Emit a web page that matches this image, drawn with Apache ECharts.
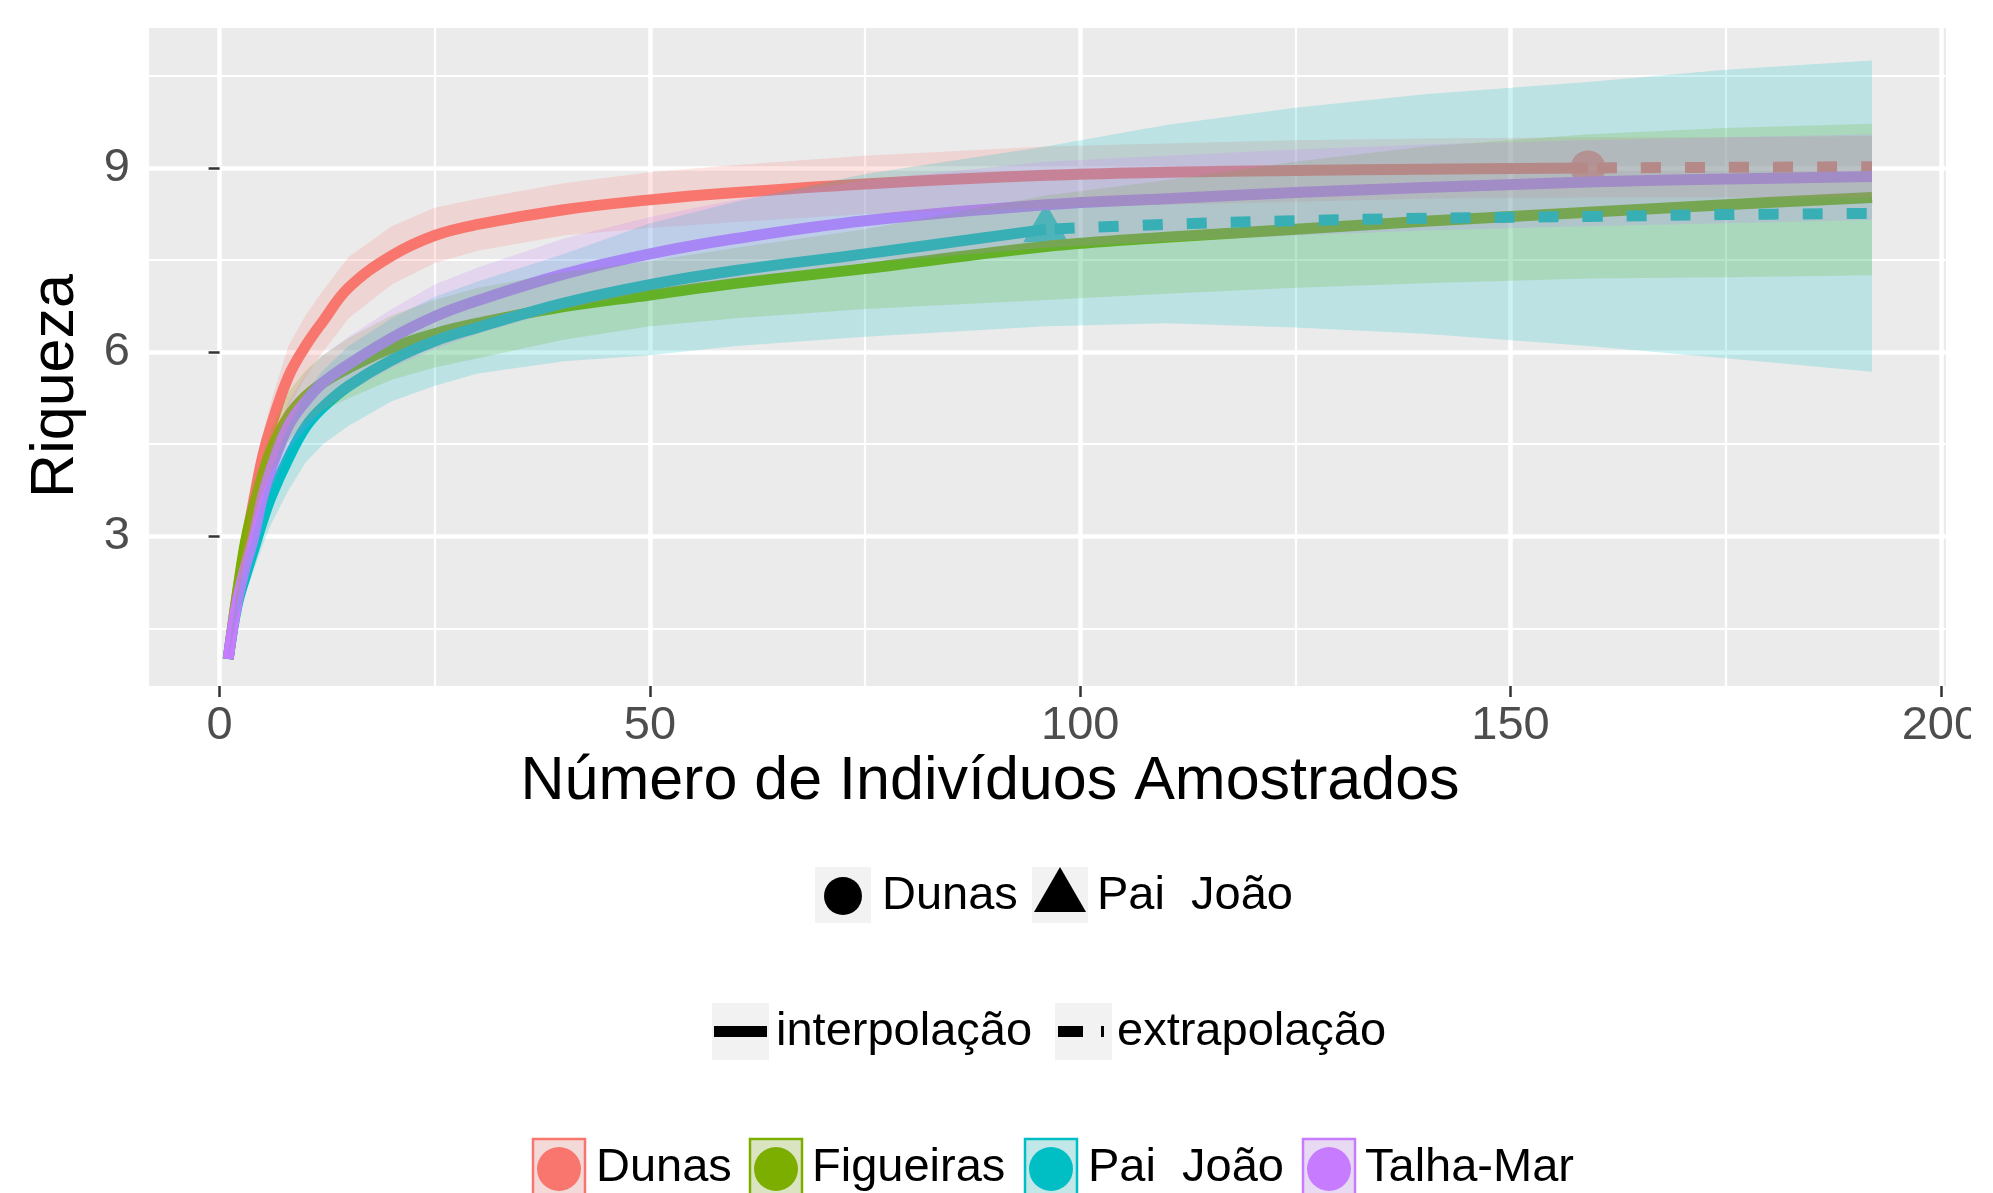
<!DOCTYPE html>
<html><head><meta charset="utf-8">
<script src="https://cdn.jsdelivr.net/npm/echarts@6/dist/echarts.min.js"></script>
<style>html,body{margin:0;padding:0;background:#fff}#c{width:1993px;height:1193px}</style>
</head><body><div id="c"></div>
<script>
// ---------- data ----------
const groups = ['Dunas', 'Figueiras', 'Pai  João', 'Talha-Mar'];
const colors = ['#F8766D', '#7CAE00', '#00BFC4', '#C77CFF'];
const xs = [1, 2, 3, 4, 5, 6, 8, 10, 12, 15, 20, 25, 30, 40, 50, 60, 75, 96, 110, 125, 140, 159, 175, 192];
// reference (observed) sample size of each assemblage; beyond it the curve is extrapolated
const refSize = [159, 999, 96, 999];
const obsX = [159, null, 96, null];
const obsY = [9.0, null, 8.0, null];

const dunasY     = [1, 2.0, 2.85, 3.6, 4.3, 4.8, 5.6, 6.1, 6.5, 7.05, 7.57, 7.9, 8.08, 8.32, 8.48, 8.6, 8.74, 8.88, 8.93, 8.96, 8.98, 9.0, 9.01, 9.02];
const dunasLo    = [1, 1.9, 2.6, 3.3, 3.95, 4.4, 5.1, 5.6, 6.0, 6.55, 7.1, 7.45, 7.65, 7.9, 8.02, 8.12, 8.25, 8.35, 8.4, 8.45, 8.5, 8.52, 8.52, 8.52];
const dunasHi    = [1, 2.1, 3.1, 3.9, 4.65, 5.2, 6.1, 6.6, 7.0, 7.55, 8.05, 8.35, 8.5, 8.75, 8.93, 9.05, 9.2, 9.35, 9.4, 9.45, 9.48, 9.5, 9.5, 9.52];

const figueirasY  = [1, 2.0, 2.9, 3.5, 4.0, 4.4, 4.95, 5.28, 5.5, 5.74, 6.07, 6.3, 6.47, 6.74, 6.93, 7.12, 7.36, 7.72, 7.87, 8.0, 8.13, 8.28, 8.4, 8.52];
const figueirasLo = [1, 1.9, 2.7, 3.25, 3.7, 4.05, 4.55, 4.85, 5.05, 5.25, 5.55, 5.75, 5.9, 6.2, 6.42, 6.55, 6.7, 6.85, 6.95, 7.05, 7.12, 7.2, 7.22, 7.25];
const figueirasHi = [1, 2.1, 3.1, 3.75, 4.3, 4.75, 5.35, 5.7, 5.95, 6.23, 6.6, 6.85, 7.05, 7.3, 7.48, 7.7, 8.0, 8.55, 8.8, 9.1, 9.35, 9.55, 9.65, 9.72];

const paiJoaoY  = [1, 1.85, 2.35, 2.8, 3.25, 3.65, 4.27, 4.78, 5.1, 5.45, 5.87, 6.18, 6.4, 6.8, 7.1, 7.33, 7.6, 8.0, 8.08, 8.14, 8.18, 8.21, 8.24, 8.26];
const paiJoaoLo = [1, 1.7, 2.1, 2.45, 2.85, 3.2, 3.75, 4.2, 4.5, 4.8, 5.2, 5.45, 5.65, 5.85, 5.95, 6.1, 6.25, 6.42, 6.47, 6.4, 6.3, 6.1, 5.9, 5.68];
const paiJoaoHi = [1, 2.0, 2.6, 3.1, 3.6, 4.05, 4.8, 5.35, 5.7, 6.1, 6.55, 6.9, 7.15, 7.6, 8.1, 8.45, 8.9, 9.35, 9.7, 9.98, 10.2, 10.4, 10.6, 10.75];

const talhaMarY  = [1, 1.9, 2.5, 3.0, 3.65, 4.1, 4.8, 5.2, 5.5, 5.8, 6.23, 6.58, 6.84, 7.27, 7.6, 7.85, 8.14, 8.4, 8.5, 8.6, 8.68, 8.77, 8.82, 8.86];
const talhaMarLo = [1, 1.8, 2.3, 2.75, 3.35, 3.75, 4.4, 4.75, 5.05, 5.35, 5.75, 6.05, 6.3, 6.7, 7.0, 7.2, 7.45, 7.7, 7.8, 7.9, 7.98, 8.05, 8.1, 8.15];
const talhaMarHi = [1, 2.0, 2.7, 3.25, 3.95, 4.45, 5.2, 5.65, 5.95, 6.25, 6.7, 7.1, 7.38, 7.85, 8.2, 8.48, 8.8, 9.1, 9.2, 9.3, 9.38, 9.45, 9.5, 9.55];

const xTicks = [0, 50, 100, 150, 200];
const yTicks = [3, 6, 9];

const richness = [dunasY, figueirasY, paiJoaoY, talhaMarY];
const lower = [dunasLo, figueirasLo, paiJoaoLo, talhaMarLo];
const upper = [dunasHi, figueirasHi, paiJoaoHi, talhaMarHi];

// ---------- helpers ----------
const FF = '"Liberation Sans", Arial, Helvetica, sans-serif';
function rgba(hex, a) {
  const n = parseInt(hex.slice(1), 16);
  return 'rgba(' + ((n >> 16) & 255) + ',' + ((n >> 8) & 255) + ',' + (n & 255) + ',' + a + ')';
}

const series = [];
// observed points (drawn first, under lines and ribbons)
groups.forEach((g, k) => {
  if (obsX[k] == null) return;
  const tri = k === 2;
  series.push({
    type: 'scatter', name: g + ' obs', z: 2, silent: true, animation: false,
    data: [[obsX[k], obsY[k]]],
    symbol: tri ? 'triangle' : 'circle',
    symbolSize: tri ? [45, 39] : 35,
    symbolOffset: tri ? [0, -6.5] : [0, 0],
    itemStyle: { color: colors[k] }
  });
});
// lines
groups.forEach((g, k) => {
  const ys = richness[k];
  const interp = [], extrap = [];
  xs.forEach((x, i) => {
    if (x <= refSize[k]) interp.push([x, ys[i]]);
    if (x >= refSize[k]) extrap.push([x, ys[i]]);
  });
  series.push({
    type: 'line', name: g, z: 3, silent: true, animation: false,
    data: interp, showSymbol: false, symbol: 'none',
    smooth: 0.4,
    lineStyle: { color: colors[k], width: 11, cap: 'butt', join: 'round' }
  });
  if (extrap.length > 1) {
    series.push({
      type: 'line', name: g + ' extrapolação', z: 3, silent: true, animation: false,
      data: extrap, showSymbol: false, symbol: 'none',
      smooth: 0.4,
      lineStyle: { color: colors[k], width: 11, cap: 'butt', type: [20, 24], dashOffset: 35 }
    });
  }
});
// confidence ribbons (on top, alpha 0.2)
groups.forEach((g, k) => {
  series.push({
    type: 'custom', name: g + ' IC', z: 4, silent: true, animation: false,
    data: xs.map((x, i) => [x, lower[k][i], upper[k][i]]),
    encode: { x: 0, y: [1, 2] },
    renderItem: function (params, api) {
      if (params.dataIndex !== 0) return null;
      const pts = [];
      for (let i = 0; i < xs.length; i++) pts.push(api.coord([xs[i], upper[k][i]]));
      for (let i = xs.length - 1; i >= 0; i--) pts.push(api.coord([xs[i], lower[k][i]]));
      return { type: 'polygon', shape: { points: pts }, style: { fill: rgba(colors[k], 0.2) } };
    }
  });
});

// ---------- legends (ggplot style keys) ----------
const g = [];
const LF = '47px ' + FF;
function txt(t, x, y, font) {
  return { type: 'text', x: x, y: y, silent: true,
    style: { text: t, font: font, fill: '#000', textAlign: 'left', textVerticalAlign: 'middle' } };
}
// axis titles
g.push({ type: 'text', x: 990, y: 782, silent: true,
  style: { text: 'Número de Indivíduos Amostrados', font: '61px ' + FF, fill: '#000', textAlign: 'center', textVerticalAlign: 'middle' } });
g.push({ type: 'text', x: 56, y: 386, rotation: Math.PI / 2, silent: true,
  style: { text: 'Riqueza', font: '61px ' + FF, fill: '#000', textAlign: 'center', textVerticalAlign: 'middle' } });
// the reference picture is cut at the right: the last x label is clipped
g.push({ type: 'rect', shape: { x: 1971, y: 695, width: 30, height: 70 }, style: { fill: '#FFFFFF' }, silent: true, z: 100 });
// shape legend
g.push({ type: 'rect', shape: { x: 815, y: 867, width: 56, height: 56 }, style: { fill: '#F2F2F2' }, silent: true });
g.push({ type: 'circle', shape: { cx: 843, cy: 896, r: 19 }, style: { fill: '#000' }, silent: true });
g.push(txt('Dunas', 882, 896, LF));
g.push({ type: 'rect', shape: { x: 1032, y: 867, width: 56, height: 56 }, style: { fill: '#F2F2F2' }, silent: true });
g.push({ type: 'polygon', shape: { points: [[1060, 867], [1086, 912], [1034, 912]] }, style: { fill: '#000' }, silent: true });
g.push(txt('Pai  João', 1097, 896, LF));
// linetype legend
g.push({ type: 'rect', shape: { x: 712, y: 1003, width: 57, height: 57 }, style: { fill: '#F2F2F2' }, silent: true });
g.push({ type: 'line', shape: { x1: 714, y1: 1031.5, x2: 767, y2: 1031.5 }, style: { stroke: '#000', lineWidth: 11 }, silent: true });
g.push(txt('interpolação', 776, 1032, LF));
g.push({ type: 'rect', shape: { x: 1055, y: 1003, width: 57, height: 57 }, style: { fill: '#F2F2F2' }, silent: true });
g.push({ type: 'line', shape: { x1: 1058, y1: 1031.5, x2: 1083, y2: 1031.5 }, style: { stroke: '#000', lineWidth: 11 }, silent: true });
g.push({ type: 'line', shape: { x1: 1101, y1: 1031.5, x2: 1104, y2: 1031.5 }, style: { stroke: '#000', lineWidth: 11 }, silent: true });
g.push(txt('extrapolação', 1117, 1032, LF));
// colour legend
const keyX = [532, 749, 1024, 1302];
const labX = [596, 812, 1088, 1365];
groups.forEach((name, k) => {
  g.push({ type: 'rect', shape: { x: keyX[k], y: 1138, width: 54, height: 58 }, style: { fill: '#F2F2F2' }, silent: true });
  g.push({ type: 'rect', shape: { x: keyX[k] + 1, y: 1139, width: 52, height: 58 },
    style: { fill: rgba(colors[k], 0.2), stroke: colors[k], lineWidth: 2.5 }, silent: true });
  g.push({ type: 'circle', shape: { cx: keyX[k] + 27, cy: 1169, r: 22 }, style: { fill: colors[k] }, silent: true });
  g.push(txt(name, labX[k], 1168, LF));
});

// ---------- chart ----------
const chart = echarts.init(document.getElementById('c'), null, { renderer: 'canvas' });
chart.setOption({
  animation: false,
  backgroundColor: '#ffffff',
  grid: { left: 149, top: 28, width: 1797, height: 658, show: true, backgroundColor: '#EBEBEB', borderWidth: 0, containLabel: false },
  xAxis: {
    type: 'value', min: -8.2, max: 200.6, splitNumber: 4,
    axisLine: { show: false },
    axisTick: { show: true, length: 11, lineStyle: { color: '#333333', width: 2.5 }, customValues: xTicks },
    axisLabel: { customValues: xTicks, fontSize: 47, fontFamily: FF, color: '#4D4D4D', margin: 17 },
    splitLine: { show: true, lineStyle: { color: '#FFFFFF', width: 4.5 } },
    minorTick: { show: false, splitNumber: 2 },
    minorSplitLine: { show: true, lineStyle: { color: '#FFFFFF', width: 2.2 } }
  },
  yAxis: {
    type: 'value', min: 0.56, max: 11.28, splitNumber: 4,
    axisLine: { show: false },
    axisTick: { show: true, length: 11, lineStyle: { color: '#333333', width: 2.5 }, customValues: yTicks },
    axisLabel: { customValues: yTicks, fontSize: 47, fontFamily: FF, color: '#4D4D4D', margin: 19 },
    splitLine: { show: true, lineStyle: { color: '#FFFFFF', width: 4.5 } },
    minorTick: { show: false, splitNumber: 2 },
    minorSplitLine: { show: true, lineStyle: { color: '#FFFFFF', width: 2.2 } }
  },
  series: series,
  graphic: { elements: g }
});
</script>
</body></html>
